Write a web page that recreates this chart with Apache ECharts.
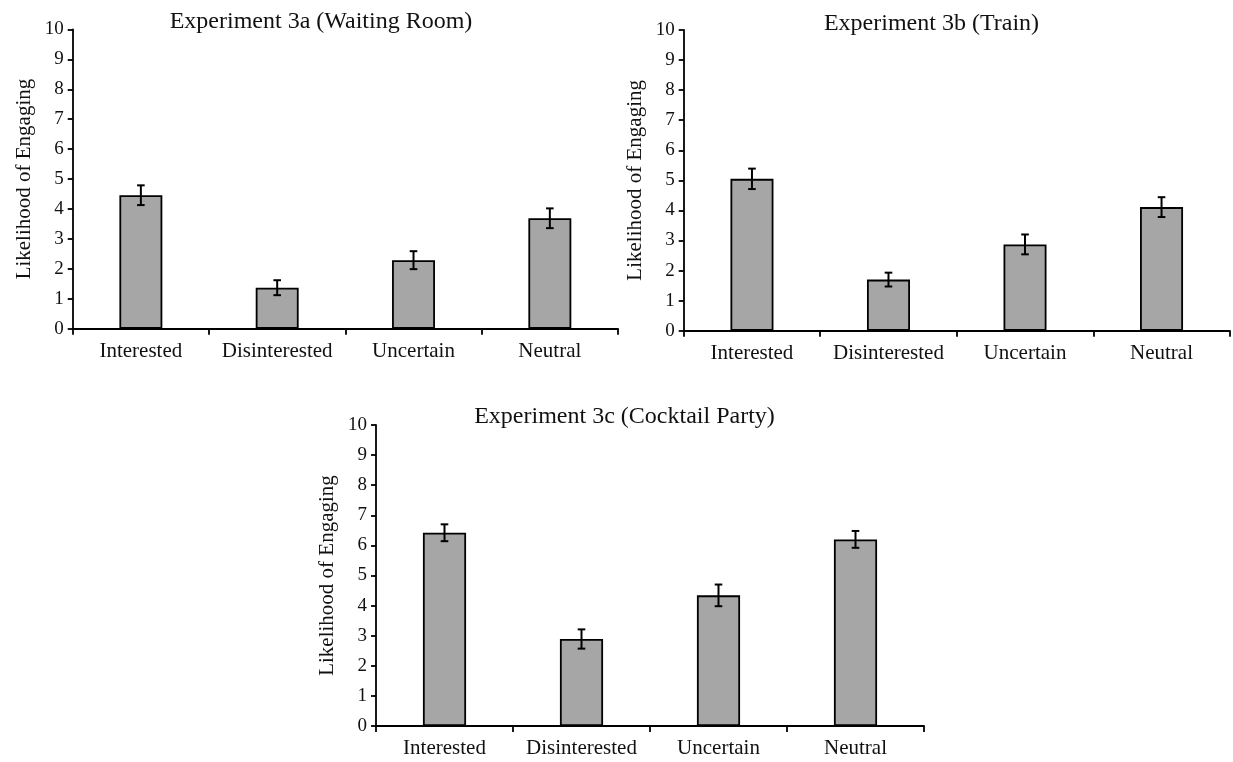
<!DOCTYPE html>
<html>
<head>
<meta charset="utf-8">
<script src="https://cdn.jsdelivr.net/npm/echarts@6/dist/echarts.min.js"></script>
<style>
  html, body { margin: 0; padding: 0; background: #fff; }
  #chart { width: 1233px; height: 762px; }
</style>
</head>
<body>
<div id="chart"></div>
<script>
// Condition labels shared by all three experiments
const categories = ['Interested', 'Disinterested', 'Uncertain', 'Neutral'];

// Panel titles
const titles = [
  'Experiment 3a (Waiting Room)',
  'Experiment 3b (Train)',
  'Experiment 3c (Cocktail Party)'
];

// Mean likelihood of engaging, per condition
const means3a = [4.46, 1.37, 2.29, 3.69];
const means3b = [5.05, 1.70, 2.87, 4.11];
const means3c = [6.42, 2.89, 4.34, 6.20];

// Standard errors (half-length of each error bar)
const se3a = [0.33, 0.25, 0.30, 0.33];
const se3b = [0.34, 0.23, 0.33, 0.33];
const se3c = [0.28, 0.32, 0.36, 0.28];

// Value axis range and step
const yMin = 0;
const yMax = 10;
const yStep = 1;

const yTitle = 'Likelihood of Engaging';

const FONT = '"Liberation Serif", "Times New Roman", serif';
const INK = '#111';

// Placement of the three panels on the page
const layout = [
  { left: 72.7, top: 29.4, width: 545.3, height: 299.3, titleX: 321, titleY: 10 },
  { left: 683.7, top: 30.0, width: 546.1, height: 300.7, titleX: 931.5, titleY: 12 },
  { left: 376.0, top: 425.0, width: 548.0, height: 301.0, titleX: 624.5, titleY: 405 }
];

const meansList = [means3a, means3b, means3c];
const seList = [se3a, se3b, se3c];

function errorBarItem(params, api) {
  const x = api.value(0);
  const lo = api.coord([x, api.value(1)]);
  const hi = api.coord([x, api.value(2)]);
  const cap = 3.8;
  const style = { stroke: '#000', lineWidth: 2 };
  return {
    type: 'group',
    children: [
      { type: 'line', shape: { x1: hi[0], y1: hi[1], x2: lo[0], y2: lo[1] }, style: style },
      { type: 'line', shape: { x1: hi[0] - cap, y1: hi[1], x2: hi[0] + cap, y2: hi[1] }, style: style },
      { type: 'line', shape: { x1: lo[0] - cap, y1: lo[1], x2: lo[0] + cap, y2: lo[1] }, style: style }
    ]
  };
}

const grid = [], xAxis = [], yAxis = [], series = [], title = [];

layout.forEach(function (p, i) {
  grid.push({ left: p.left, top: p.top, width: p.width, height: p.height, containLabel: false });

  title.push({
    text: titles[i],
    left: p.titleX,
    top: p.titleY,
    textAlign: 'center',
    padding: 0,
    textStyle: { fontFamily: FONT, fontSize: 24, fontWeight: 'normal', color: INK }
  });

  xAxis.push({
    type: 'category',
    gridIndex: i,
    data: categories,
    boundaryGap: true,
    axisLine: { show: true, lineStyle: { color: '#000', width: 1.8 } },
    axisTick: { show: true, interval: 0, length: 6, lineStyle: { color: '#000', width: 1.8 } },
    axisLabel: { interval: 0, fontFamily: FONT, fontSize: 21, color: INK, margin: 12 },
    splitLine: { show: false }
  });

  yAxis.push({
    type: 'value',
    gridIndex: i,
    min: yMin,
    max: yMax,
    interval: yStep,
    name: yTitle,
    nameLocation: 'middle',
    nameRotate: 90,
    nameGap: 38,
    nameTextStyle: { fontFamily: FONT, fontSize: 21, color: INK },
    axisLine: { show: true, lineStyle: { color: '#000', width: 1.8 } },
    axisTick: { show: true, length: 5, lineStyle: { color: '#000', width: 1.8 } },
    axisLabel: { fontFamily: FONT, fontSize: 19, color: INK, margin: 9 },
    splitLine: { show: false }
  });

  series.push({
    type: 'bar',
    xAxisIndex: i,
    yAxisIndex: i,
    data: meansList[i],
    barWidth: '31.5%',
    itemStyle: { color: '#A6A6A6', borderColor: '#000', borderWidth: 1.8 },
    silent: true,
    z: 2
  });

  series.push({
    type: 'custom',
    xAxisIndex: i,
    yAxisIndex: i,
    data: meansList[i].map(function (m, k) {
      return [k, m - seList[i][k], m + seList[i][k]];
    }),
    renderItem: errorBarItem,
    silent: true,
    z: 3
  });
});

const chart = echarts.init(document.getElementById('chart'), null, { renderer: 'canvas' });
chart.setOption({
  backgroundColor: '#fff',
  animation: false,
  title: title,
  grid: grid,
  xAxis: xAxis,
  yAxis: yAxis,
  series: series
});
</script>
</body>
</html>
